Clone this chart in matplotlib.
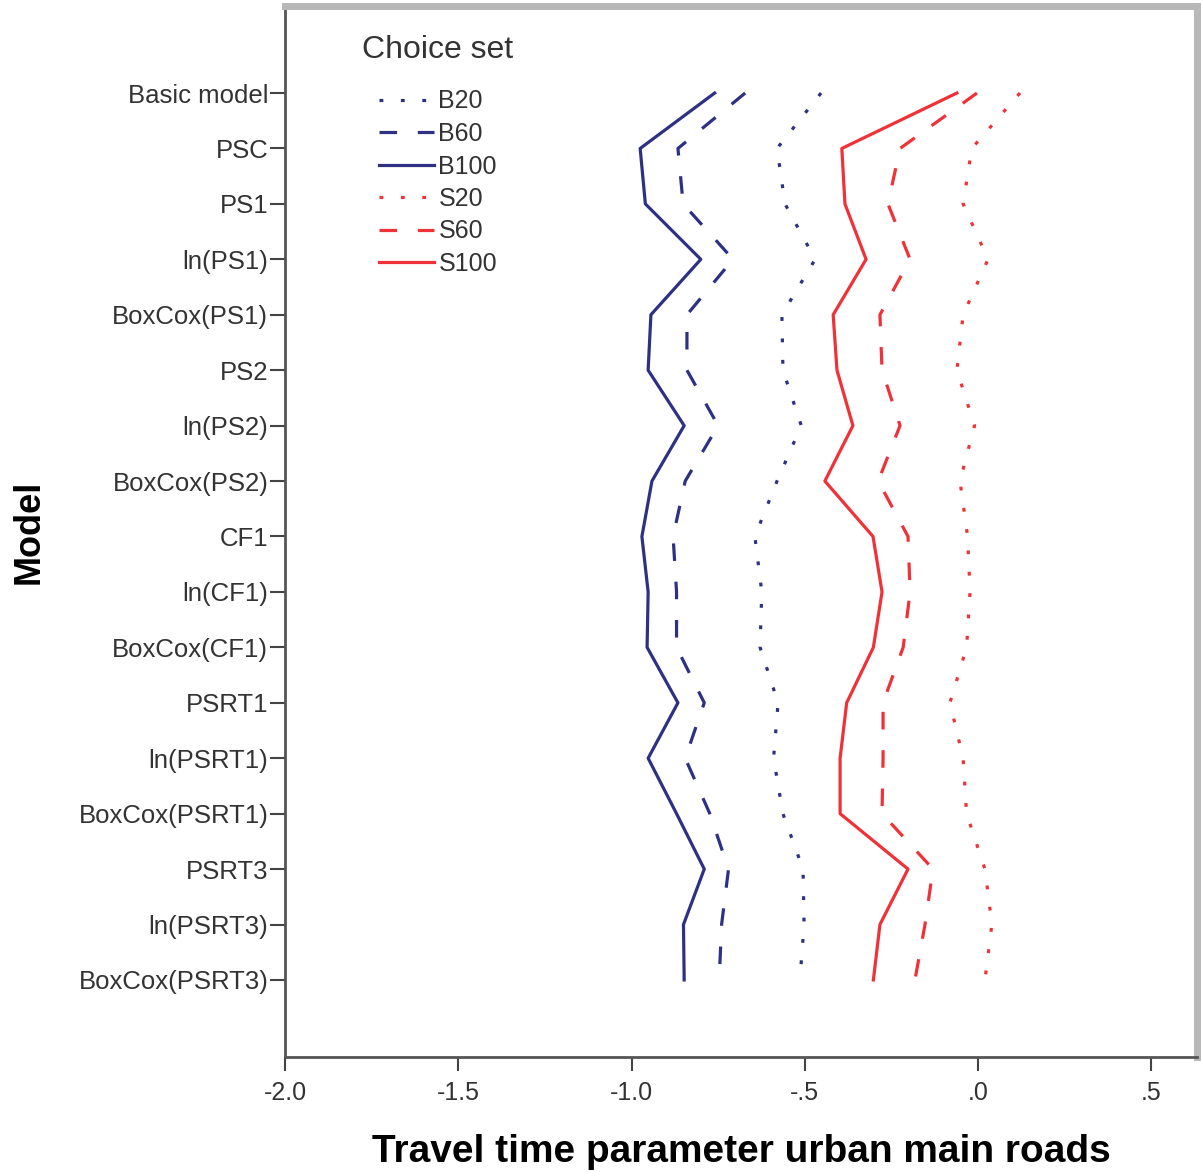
import numpy as np
import matplotlib.pyplot as plt

models = ['Basic model', 'PSC', 'PS1', 'ln(PS1)', 'BoxCox(PS1)', 'PS2', 'ln(PS2)',
          'BoxCox(PS2)', 'CF1', 'ln(CF1)', 'BoxCox(CF1)', 'PSRT1', 'ln(PSRT1)',
          'BoxCox(PSRT1)', 'PSRT3', 'ln(PSRT3)', 'BoxCox(PSRT3)']

b20 = [-0.453, -0.58, -0.557, -0.47, -0.566, -0.563, -0.51, -0.58, -0.644,
       -0.624, -0.629, -0.577, -0.59, -0.563, -0.505, -0.502, -0.514]
b60 = [-0.672, -0.866, -0.851, -0.707, -0.84, -0.84, -0.75, -0.845, -0.88,
       -0.87, -0.87, -0.79, -0.845, -0.774, -0.72, -0.74, -0.747]
b100 = [-0.76, -0.975, -0.96, -0.80, -0.944, -0.952, -0.848, -0.941, -0.97,
        -0.952, -0.955, -0.866, -0.952, -0.87, -0.79, -0.85, -0.848]
s20 = [0.121, -0.018, -0.043, 0.029, -0.043, -0.061, -0.01, -0.052, -0.03,
       -0.023, -0.033, -0.081, -0.043, -0.033, 0.02, 0.04, 0.02]
s60 = [-0.003, -0.225, -0.26, -0.196, -0.283, -0.277, -0.225, -0.288, -0.202,
       -0.196, -0.216, -0.274, -0.274, -0.277, -0.13, -0.153, -0.182]
s100 = [-0.061, -0.393, -0.384, -0.323, -0.418, -0.407, -0.361, -0.442, -0.303,
        -0.277, -0.302, -0.379, -0.398, -0.398, -0.202, -0.283, -0.302]

series_names = ['B20', 'B60', 'B100', 'S20', 'S60', 'S100']
xticks = [-2.0, -1.5, -1.0, -0.5, 0.0, 0.5]
xtick_labels = ['-2.0', '-1.5', '-1.0', '-.5', '.0', '.5']

plt.rcParams['font.family'] = ['Liberation Sans', 'DejaVu Sans']

blue = '#2e3183'
red = '#f03238'
dotted = (0, (1.2, 5.5))
dashed = (0, (5.5, 6.5))
styles = [(blue, dotted), (blue, dashed), (blue, '-'),
          (red, dotted), (red, dashed), (red, '-')]

fig = plt.figure(figsize=(12.01, 11.72), dpi=100)
ax = fig.add_axes([285 / 1201, 1 - 1057 / 1172, 912 / 1201, 1051 / 1172])

y = np.arange(len(models))
for vals, name, (c, ls) in zip([b20, b60, b100, s20, s60, s100], series_names, styles):
    ax.plot(vals, y, color=c, linestyle=ls, linewidth=2.3, label=name)

ax.set_xlim(-2.0, 0.632)
ax.set_ylim(17.39, -1.57)
ax.set_yticks(y)
ax.set_yticklabels(models)
ax.set_xticks(xticks)
ax.set_xticklabels(xtick_labels)

ax.tick_params(axis='y', length=11, width=1.5, color='#444444', labelsize=18.5,
               labelcolor='#333333', pad=1)
ax.tick_params(axis='x', length=10, width=1.5, color='#444444', labelsize=18,
               labelcolor='#333333', pad=7)

for s in ['left', 'bottom']:
    ax.spines[s].set_color('#555555')
    ax.spines[s].set_linewidth(2)
for s in ['top', 'right']:
    ax.spines[s].set_color('#b8b8b8')
    ax.spines[s].set_linewidth(5)

ax.set_xlabel('Travel time parameter urban main roads', fontsize=28, fontweight='bold')
ax.xaxis.set_label_coords(0.5, -0.073)
ax.set_ylabel('Model', fontsize=26, fontweight='bold')
ax.yaxis.set_label_coords(-0.261, 0.5)

# legend title placed by hand, entries below it
fig.text(362 / 1201, 1 - 50 / 1172, 'Choice set', fontsize=23, color='#333333',
         ha='left', va='center')
leg = ax.legend(loc='upper left', bbox_to_anchor=(366 / 1201, 1 - 77 / 1172),
                bbox_transform=fig.transFigure, frameon=False,
                fontsize=18, handlelength=2.2, handletextpad=0.2,
                labelspacing=0.34, borderpad=0)
for t in leg.get_texts():
    t.set_color('#333333')

fig.savefig('out.png', dpi=100)
